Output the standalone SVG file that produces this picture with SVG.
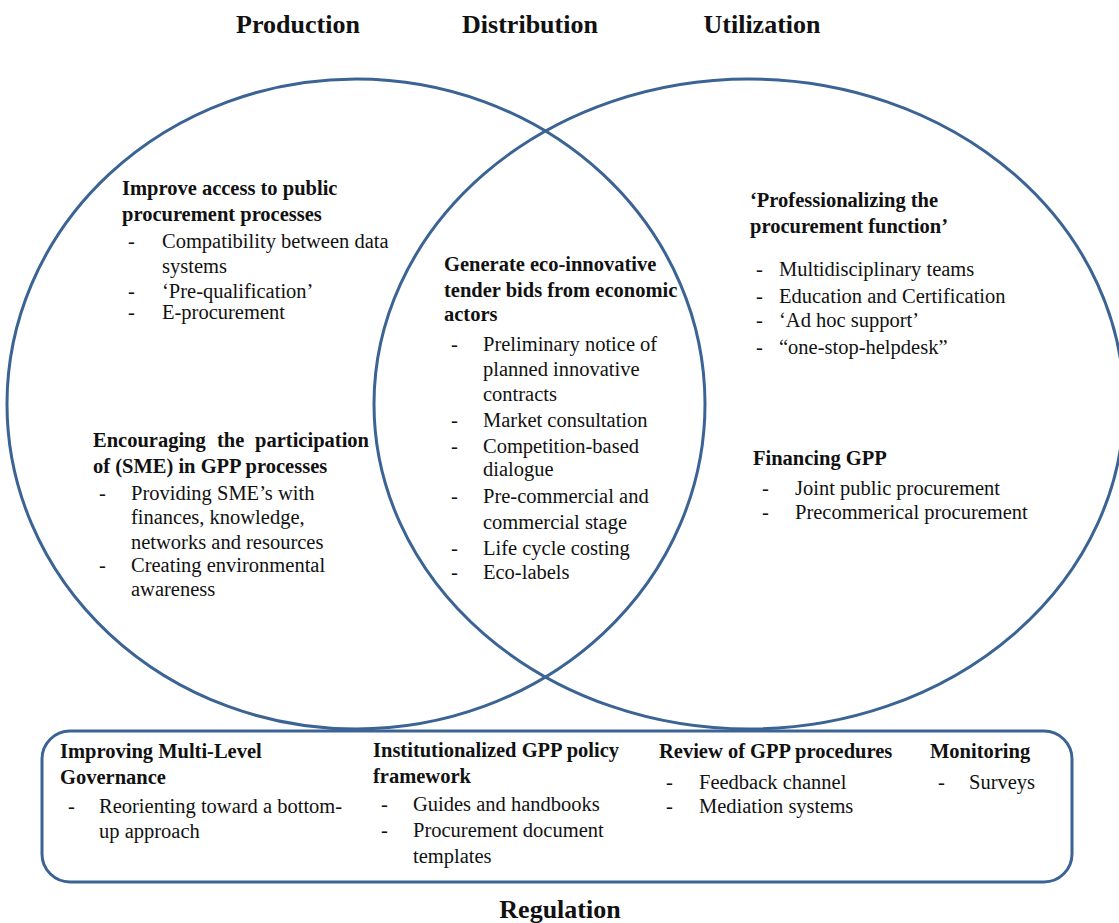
<svg xmlns="http://www.w3.org/2000/svg" width="1119" height="923" viewBox="0 0 1119 923">
<style>
.ring{fill:none;stroke:#3b6494;stroke-width:3}
text{font-family:"Liberation Serif","Times New Roman",serif;font-size:20.5px;fill:#111}
.h{font-weight:bold}
.t{font-weight:bold;font-size:26px}
</style>
<rect width="1119" height="923" fill="#fff"/>
<g id="titles">
<text class="t" x="298" y="33" text-anchor="middle">Production</text>
<text class="t" x="530" y="33" text-anchor="middle">Distribution</text>
<text class="t" x="762" y="33" text-anchor="middle">Utilization</text>
<text class="t" x="560" y="918" text-anchor="middle">Regulation</text>
</g>
<g id="production-circle"><ellipse class="ring" cx="356" cy="404" rx="349" ry="325"/></g>
<g id="utilization-circle"><ellipse class="ring" cx="749" cy="404" rx="375" ry="325"/></g>
<g id="regulation-box"><rect class="ring" x="42" y="731" width="1030" height="151" rx="28"/></g>

<g id="access">
<text class="h" x="122" y="195">Improve access to public</text>
<text class="h" x="122" y="221">procurement processes</text>
<text x="128" y="248">-</text><text x="162" y="248">Compatibility between data</text>
<text x="162" y="273">systems</text>
<text x="128" y="298">-</text><text x="162" y="298">‘Pre-qualification’</text>
<text x="128" y="319">-</text><text x="162" y="319">E-procurement</text>
</g>

<g id="sme">
<text class="h" x="93" y="447">Encouraging</text>
<text class="h" x="217" y="447">the</text>
<text class="h" x="369" y="447" text-anchor="end">participation</text>
<text class="h" x="93" y="473">of (SME) in GPP processes</text>
<text x="99" y="500">-</text><text x="131" y="500">Providing SME’s with</text>
<text x="131" y="524">finances, knowledge,</text>
<text x="131" y="549">networks and resources</text>
<text x="99" y="572">-</text><text x="131" y="572">Creating environmental</text>
<text x="131" y="596">awareness</text>
</g>

<g id="eco-bids">
<text class="h" x="444" y="271">Generate eco-innovative</text>
<text class="h" x="444" y="297">tender bids from economic</text>
<text class="h" x="444" y="321">actors</text>
<text x="451" y="351">-</text><text x="483" y="351">Preliminary notice of</text>
<text x="483" y="376">planned innovative</text>
<text x="483" y="401">contracts</text>
<text x="451" y="427">-</text><text x="483" y="427">Market consultation</text>
<text x="451" y="453">-</text><text x="483" y="453">Competition-based</text>
<text x="483" y="476">dialogue</text>
<text x="451" y="503">-</text><text x="483" y="503">Pre-commercial and</text>
<text x="483" y="529">commercial stage</text>
<text x="451" y="555">-</text><text x="483" y="555">Life cycle costing</text>
<text x="451" y="579">-</text><text x="483" y="579">Eco-labels</text>
</g>

<g id="professionalizing">
<text class="h" x="750" y="207">‘Professionalizing the</text>
<text class="h" x="750" y="233">procurement function’</text>
<text x="756" y="276">-</text><text x="779" y="276">Multidisciplinary teams</text>
<text x="756" y="303">-</text><text x="779" y="303">Education and Certification</text>
<text x="756" y="327">-</text><text x="779" y="327">‘Ad hoc support’</text>
<text x="756" y="354">-</text><text x="779" y="354">“one-stop-helpdesk”</text>
</g>

<g id="financing">
<text class="h" x="753" y="465">Financing GPP</text>
<text x="762" y="495">-</text><text x="795" y="495">Joint public procurement</text>
<text x="762" y="519">-</text><text x="795" y="519">Precommerical procurement</text>
</g>

<g id="governance">
<text class="h" x="60" y="758">Improving Multi-Level</text>
<text class="h" x="60" y="784">Governance</text>
<text x="68" y="813">-</text><text x="99" y="813">Reorienting toward a bottom-</text>
<text x="99" y="838">up approach</text>
</g>

<g id="policy-framework">
<text class="h" x="373" y="757">Institutionalized GPP policy</text>
<text class="h" x="373" y="783">framework</text>
<text x="381" y="811">-</text><text x="413" y="811">Guides and handbooks</text>
<text x="381" y="837">-</text><text x="413" y="837">Procurement document</text>
<text x="413" y="863">templates</text>
</g>

<g id="review">
<text class="h" x="659" y="758">Review of GPP procedures</text>
<text x="666" y="789">-</text><text x="699" y="789">Feedback channel</text>
<text x="666" y="813">-</text><text x="699" y="813">Mediation systems</text>
</g>

<g id="monitoring">
<text class="h" x="930" y="758">Monitoring</text>
<text x="938" y="789">-</text><text x="969" y="789">Surveys</text>
</g>
</svg>
